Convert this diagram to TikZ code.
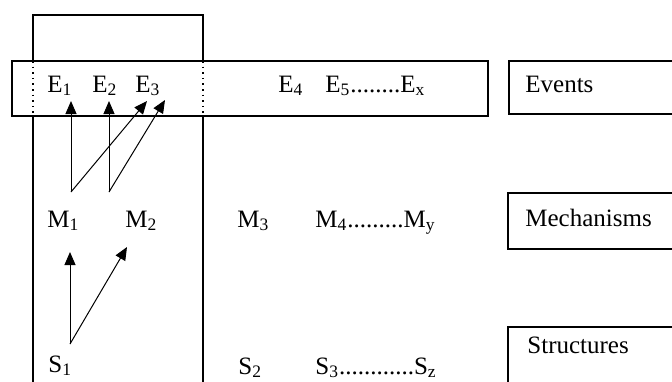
\documentclass[tikz,border=0pt]{standalone}
\usepackage{fontspec}
\setmainfont{Liberation Serif}
\usetikzlibrary{arrows.meta}
\tikzset{
  lbl/.style={anchor=base west, inner sep=0pt, font=\fontsize{12.5}{14}\selectfont},
  frame/.style={line width=0.8pt},
  link/.style={line width=0.5pt, -{Triangle[width=5.5pt,length=6.5pt]}}
}

\begin{document}
\begin{tikzpicture}[x=0.5pt, y=-0.5pt]
			%%%%% START %%%%%
			\clip (0, 0) rectangle (672, 381);
			
			% event band and the tall window over it
			\draw[frame] (12, 61) rectangle (488, 116);
			\draw[frame] (33, 61) -- (33, 15) -- (203, 15) -- (203, 61);
			\draw[frame] (33, 116) -- (33, 400);
			\draw[frame] (203, 116) -- (203, 400);
			\draw[line width=0.8pt, dotted] (33, 61) -- (33, 116);
			\draw[line width=0.8pt, dotted] (203, 61) -- (203, 116);
			
			% legend boxes on the right
			\draw[frame] (509, 61) rectangle (690, 114);
			\draw[frame] (508, 193) rectangle (690, 249);
			\draw[frame] (508, 327) rectangle (690, 400);
			\node[lbl] (events) at (525, 92) {Events};
			\node[lbl] (mechs) at (525, 226) {Mechanisms};
			\node[lbl] (structs) at (527, 353) {Structures};
			
			% events row
			\node[lbl] (E1) at (47, 92) {E\textsubscript{1}};
			\node[lbl] (E2) at (92, 92) {E\textsubscript{2}};
			\node[lbl] (E3) at (135, 92) {E\textsubscript{3}};
			\node[lbl] (E4) at (278, 92) {E\textsubscript{4}};
			\node[lbl] (E5) at (325, 92) {E\textsubscript{5}........E\textsubscript{x}};
			
			% mechanisms row
			\node[lbl] (M1) at (47, 227) {M\textsubscript{1}};
			\node[lbl] (M2) at (125, 227) {M\textsubscript{2}};
			\node[lbl] (M3) at (237, 227) {M\textsubscript{3}};
			\node[lbl] (M4) at (315, 227) {M\textsubscript{4}.........M\textsubscript{y}};
			
			% structures row
			\node[lbl] (S1) at (48, 372) {S\textsubscript{1}};
			\node[lbl] (S2) at (238, 374) {S\textsubscript{2}};
			\node[lbl] (S3) at (315, 374) {S\textsubscript{3}............S\textsubscript{z}};
			
			% arrow ends
			\coordinate (m1out) at (71, 192);
			\coordinate (m2out) at (109, 192);
			\coordinate (e1in) at (71, 101);
			\coordinate (e2in) at (109, 101);
			\coordinate (e3in) at (147, 101);
			\coordinate (e3in2) at (165, 100);
			\coordinate (s1out) at (70, 344);
			\coordinate (m1in) at (70, 252);
			\coordinate (m2in) at (127, 247);
			
			\draw[link] (m1out) -- (e1in);
			\draw[link] (m1out) -- (e3in);
			\draw[link] (m2out) -- (e2in);
			\draw[link] (m2out) -- (e3in2);
			\draw[link] (s1out) -- (m1in);
			\draw[link] (s1out) -- (m2in);
			
			%%%%% END %%%%%
\end{tikzpicture}
\end{document}
